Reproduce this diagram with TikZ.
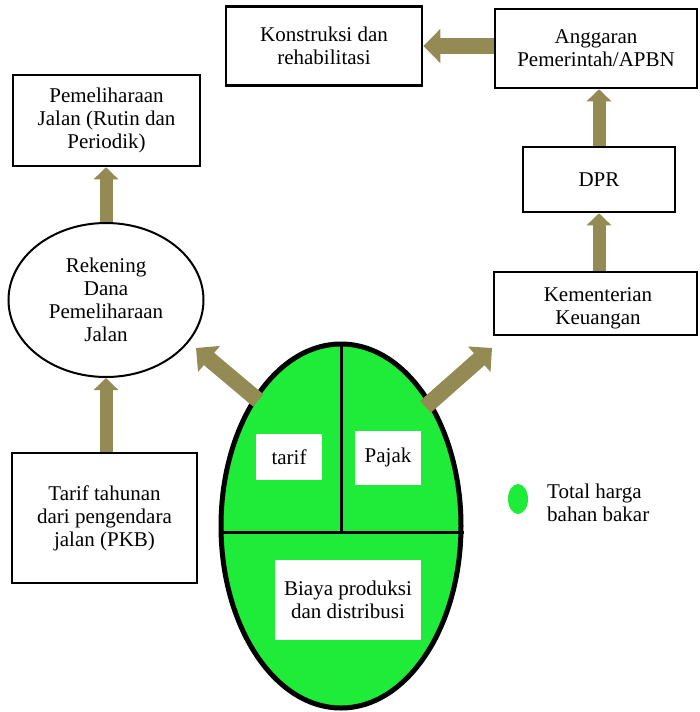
\documentclass[tikz,border=0pt]{standalone}
\usepackage{fontspec}
\setmainfont{Liberation Serif}
\usetikzlibrary{arrows.meta,shapes.geometric}
\definecolor{arrowtan}{RGB}{148,138,84}
\definecolor{fuelgreen}{RGB}{31,235,57}
\newcommand{\diagfont}{\fontsize{21}{23}\selectfont}
\tikzset{
    box/.style={draw,line width=2.5pt,align=center,inner sep=0pt,font=\diagfont},
    cell/.style={fill=white,align=center,inner sep=0pt,font=\diagfont},
    thinflow/.style={draw=arrowtan,line width=13pt,-{Triangle[width=24pt,length=12pt]}},
    fatflow/.style={draw=arrowtan,line width=16pt,-{Triangle[width=33pt,length=17pt]}},
}

\begin{document}
\begin{tikzpicture}[x=1pt,y=-1pt]
    \useasboundingbox (0,0) rectangle (700,712);
    \node[box,minimum width=196pt,minimum height=79pt] (kons) at (324,46) {Konstruksi dan\\rehabilitasi};
    \node[box,minimum width=202pt,minimum height=79pt] (ang) at (596,48.5) {Anggaran\\Pemerintah/APBN};
    \node[box,minimum width=187pt,minimum height=91pt] (pem) at (106.5,120.5) {Pemeliharaan\\Jalan (Rutin dan\\Periodik)};
    \node[box,ellipse,line width=2pt,minimum width=195pt,minimum height=154pt] (rek) at (106,300) {Rekening\\Dana\\Pemeliharaan\\Jalan};
    \node[box,minimum width=185pt,minimum height=130pt] (tarifbox) at (104.5,518) {Tarif tahunan\\dari pengendara\\jalan (PKB)};
    \node[box,minimum width=152pt,minimum height=65pt] (dpr) at (599,179.5) {DPR};
    \node[box,minimum width=203pt,minimum height=63pt] (kem) at (595.5,303.5) {};
    \node[align=center,inner sep=0pt,font=\diagfont] (kemtext) at (598,308) {Kementerian\\Keuangan};

    \node[ellipse,draw,fill=fuelgreen,line width=5pt,minimum width=240pt,minimum height=364pt] (fuel) at (341,526) {};
    \draw[line width=3pt] (fuel.north) -- (fuel.north |- 0,532);
    \draw[line width=3pt] ([yshift=-6pt]fuel.west) -- ([yshift=-6pt]fuel.east);
    \node[cell,minimum width=66pt,minimum height=46pt] (tarif) at (289,457) {tarif};
    \node[cell,minimum width=66pt,minimum height=54pt] (pajak) at (388,457.5) {Pajak};
    \node[cell,minimum width=146pt,minimum height=80pt] (biaya) at (348,599.5) {Biaya produksi\\dan distribusi};

    \node[ellipse,fill=fuelgreen,minimum width=20pt,minimum height=30pt,inner sep=0pt] (key) at (518,499) {};
    \node[anchor=west,align=left,inner sep=0pt,font=\diagfont] (keytext) at (547,503) {Total harga\\bahan bakar};

    \draw[fatflow] (ang.west |- kons.east) -- (kons.east);
    \draw[thinflow] (rek.north) -- (rek.north |- pem.south);
    \draw[thinflow] (rek.south |- tarifbox.north) -- (rek.south);
    \draw[thinflow] (kem.north -| dpr.south) -- (dpr.south);
    \draw[thinflow] (dpr.north) -- (dpr.north |- ang.south);
    \coordinate (rektip) at (196,348);
    \coordinate (kemtip) at (492,348);
    \draw[fatflow,shorten <=-6pt] (fuel.124) -- (rektip);
    \draw[fatflow,shorten <=-8pt] (fuel.54) -- (kemtip);
\end{tikzpicture}
\end{document}
